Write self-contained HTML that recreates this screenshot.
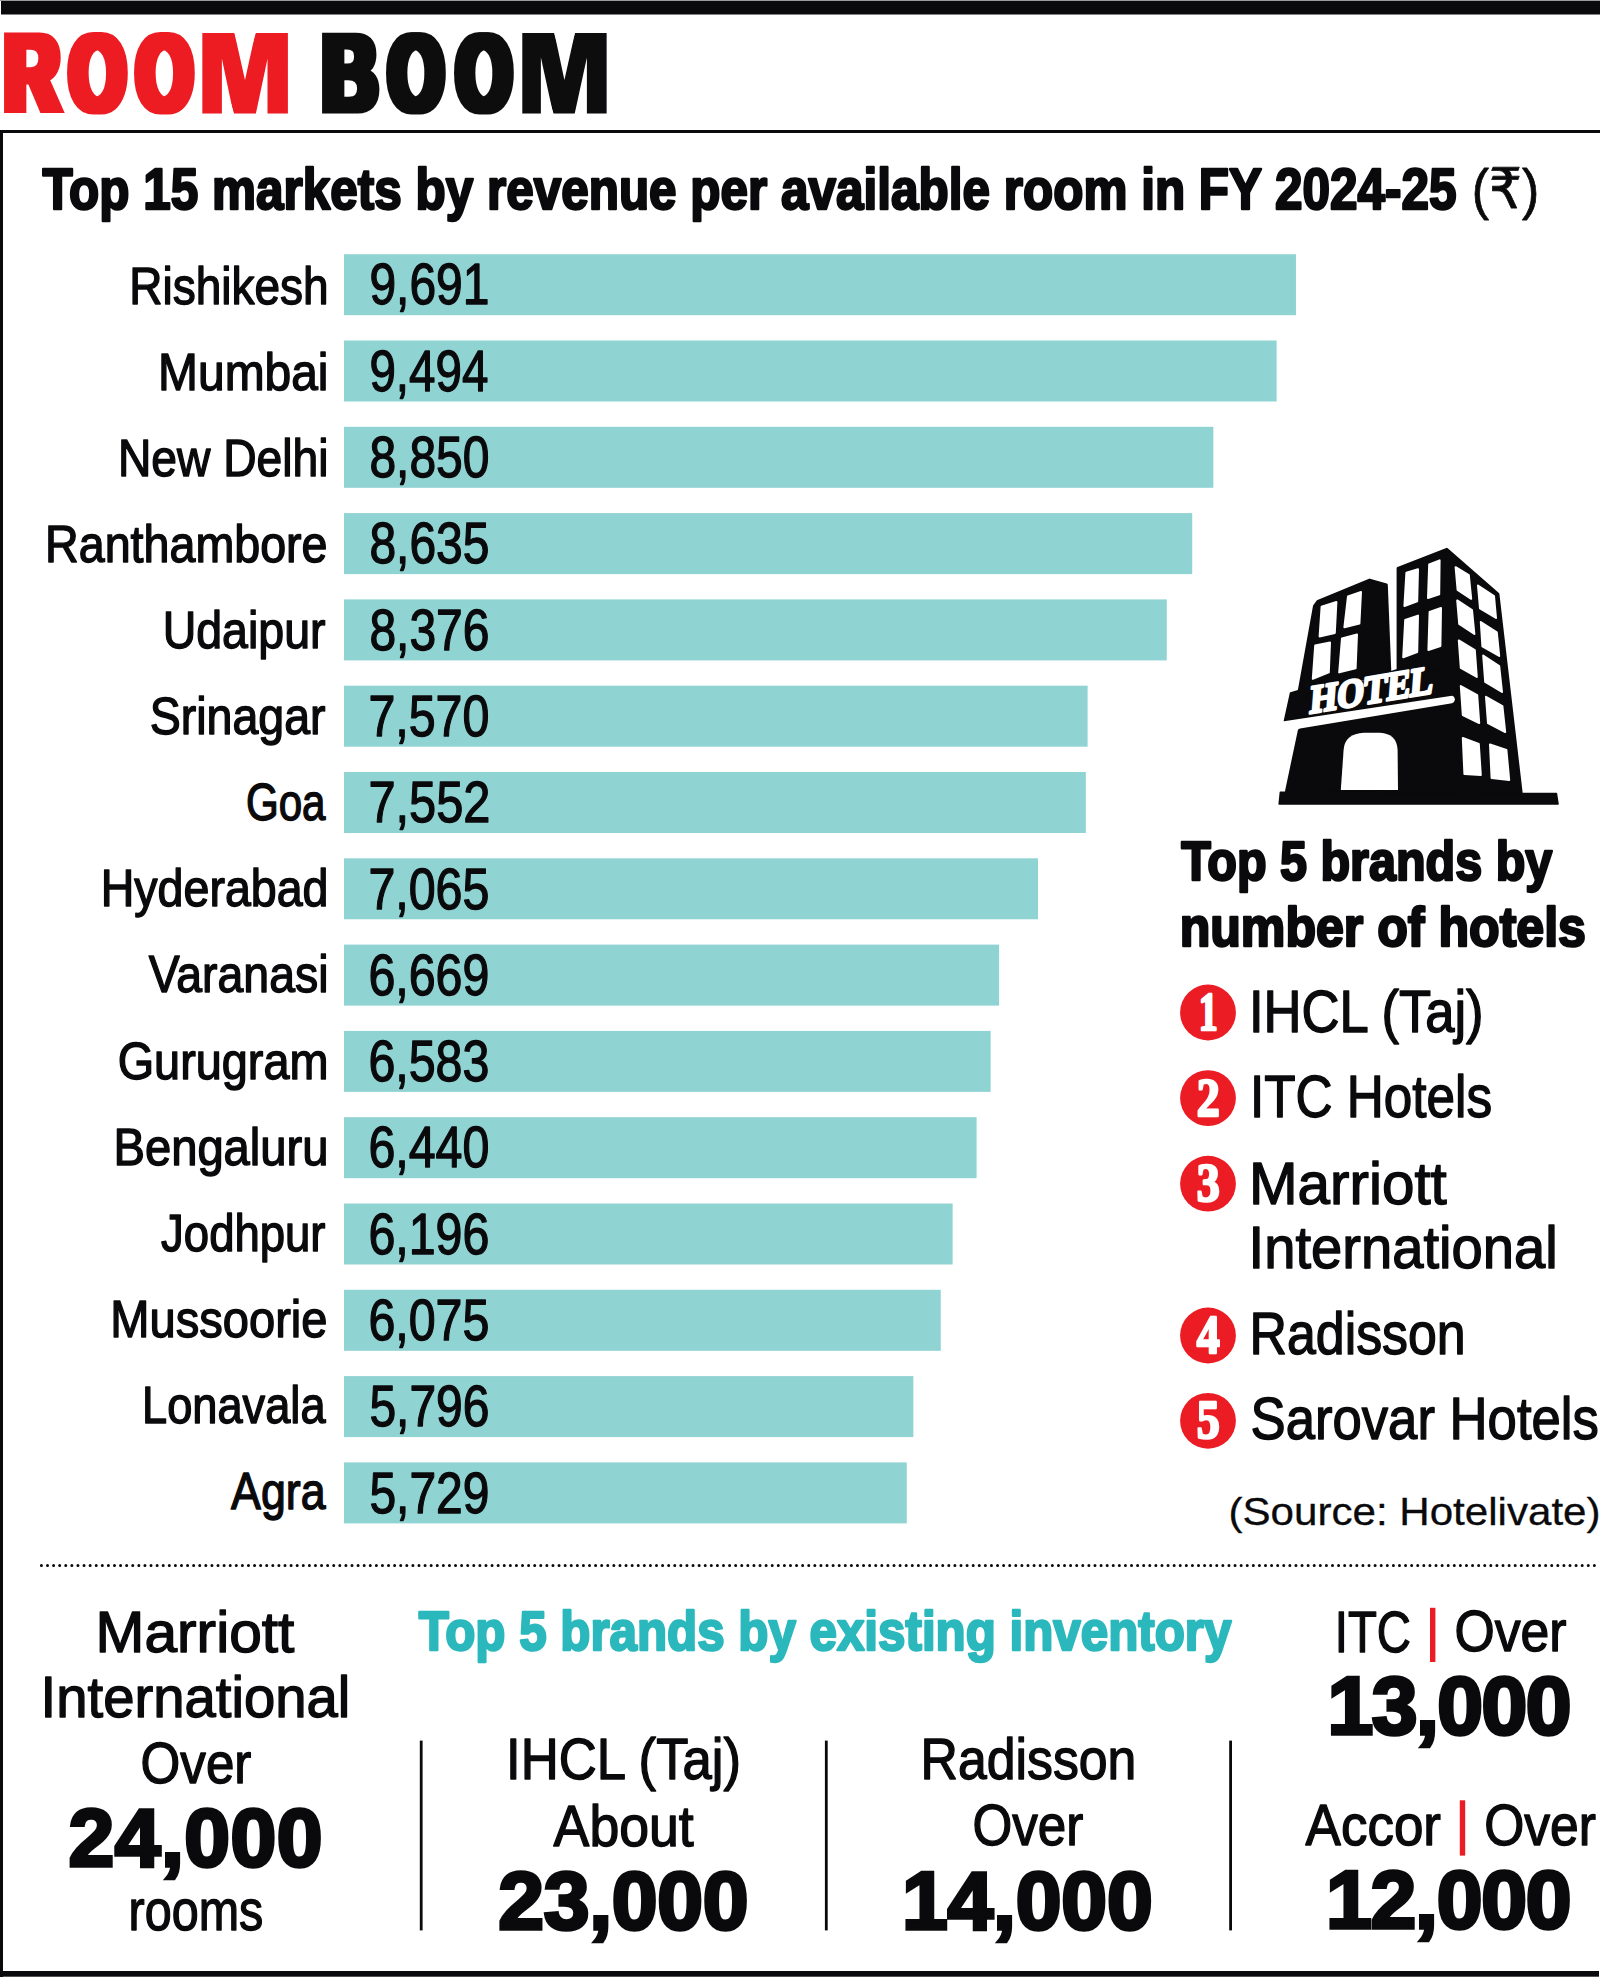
<!DOCTYPE html>
<html><head><meta charset="utf-8"><title>Room Boom</title>
<style>html,body{margin:0;padding:0;background:#fff;}svg{display:block;}</style></head><body>
<svg width="1600" height="1978" viewBox="0 0 1600 1978">
<defs><filter id="dilx" x="-20%" y="-10%" width="140%" height="120%"><feMorphology operator="dilate" radius="3.5 0"/></filter></defs>
<rect x="0" y="0" width="1600" height="1978" fill="#ffffff"/>
<rect x="0" y="0" width="1600" height="1" fill="#9a9a9a"/>
<rect x="1" y="1" width="1599" height="13.5" fill="#0a0a0c"/>
<rect x="0" y="130" width="1600" height="3" fill="#0a0a0c"/>
<rect x="0" y="130" width="3" height="1847" fill="#0a0a0c"/>
<rect x="0" y="1971" width="1599" height="5.7" fill="#0a0a0c"/>
<rect x="344" y="254.20" width="951.95" height="61" fill="#8fd3d2"/>
<rect x="344" y="340.50" width="932.60" height="61" fill="#8fd3d2"/>
<rect x="344" y="426.80" width="869.34" height="61" fill="#8fd3d2"/>
<rect x="344" y="513.10" width="848.22" height="61" fill="#8fd3d2"/>
<rect x="344" y="599.40" width="822.77" height="61" fill="#8fd3d2"/>
<rect x="344" y="685.70" width="743.60" height="61" fill="#8fd3d2"/>
<rect x="344" y="772.00" width="741.83" height="61" fill="#8fd3d2"/>
<rect x="344" y="858.30" width="693.99" height="61" fill="#8fd3d2"/>
<rect x="344" y="944.60" width="655.10" height="61" fill="#8fd3d2"/>
<rect x="344" y="1030.90" width="646.65" height="61" fill="#8fd3d2"/>
<rect x="344" y="1117.20" width="632.60" height="61" fill="#8fd3d2"/>
<rect x="344" y="1203.50" width="608.63" height="61" fill="#8fd3d2"/>
<rect x="344" y="1289.80" width="596.75" height="61" fill="#8fd3d2"/>
<rect x="344" y="1376.10" width="569.34" height="61" fill="#8fd3d2"/>
<rect x="344" y="1462.40" width="562.76" height="61" fill="#8fd3d2"/>
<g transform="translate(1260 530) scale(0.2)" stroke-linejoin="round">
<polygon fill="#0a0a0c" stroke="#0a0a0c" stroke-width="14" points="290,356 548,250 632,274 650,720 196,802 272,380"/>
<polygon fill="#0a0a0c" stroke="#0a0a0c" stroke-width="14" points="690,192 934,96 1190,320 1306,1312 660,1312 660,710 690,700"/>
<polygon fill="#0a0a0c" stroke="#0a0a0c" stroke-width="8" points="153,815 203,800 980,690 985,850 122,956"/>
<polygon fill="#0a0a0c" stroke="#0a0a0c" stroke-width="14" points="198,994 990,862 1000,1312 132,1306"/>
<polygon fill="#0a0a0c" stroke="#0a0a0c" stroke-width="8" points="102,1312 1482,1318 1490,1370 96,1370"/>
<polygon fill="#ffffff" points="112,958 960,829 970,834 975,847 970,860 960,866 200,993 185,1000 112,1004"/>
<polygon fill="#ffffff" stroke="#ffffff" stroke-width="10" stroke-linejoin="round" points="308,384 382,360 374,515 298,532"/>
<polygon fill="#ffffff" stroke="#ffffff" stroke-width="10" stroke-linejoin="round" points="440,332 505,310 497,468 422,486"/>
<polygon fill="#ffffff" stroke="#ffffff" stroke-width="10" stroke-linejoin="round" points="276,578 350,562 344,712 264,744"/>
<polygon fill="#ffffff" stroke="#ffffff" stroke-width="10" stroke-linejoin="round" points="410,542 485,522 478,692 396,712"/>
<polygon fill="#ffffff" stroke="#ffffff" stroke-width="10" stroke-linejoin="round" points="732,214 790,196 786,356 722,380"/>
<polygon fill="#ffffff" stroke="#ffffff" stroke-width="10" stroke-linejoin="round" points="846,172 898,152 896,322 840,340"/>
<polygon fill="#ffffff" stroke="#ffffff" stroke-width="10" stroke-linejoin="round" points="726,450 790,428 786,610 716,636"/>
<polygon fill="#ffffff" stroke="#ffffff" stroke-width="10" stroke-linejoin="round" points="848,410 905,390 902,580 842,600"/>
<polygon fill="#ffffff" stroke="#ffffff" stroke-width="10" stroke-linejoin="round" points="978,186 1044,226 1056,344 988,300"/>
<polygon fill="#ffffff" stroke="#ffffff" stroke-width="10" stroke-linejoin="round" points="986,352 1060,400 1072,520 996,470"/>
<polygon fill="#ffffff" stroke="#ffffff" stroke-width="10" stroke-linejoin="round" points="994,552 1074,600 1084,735 1004,690"/>
<polygon fill="#ffffff" stroke="#ffffff" stroke-width="10" stroke-linejoin="round" points="1004,780 1086,826 1096,965 1014,925"/>
<polygon fill="#ffffff" stroke="#ffffff" stroke-width="10" stroke-linejoin="round" points="1014,1040 1094,1070 1104,1225 1022,1220"/>
<polygon fill="#ffffff" stroke="#ffffff" stroke-width="10" stroke-linejoin="round" points="1090,278 1170,330 1180,440 1100,392"/>
<polygon fill="#ffffff" stroke="#ffffff" stroke-width="10" stroke-linejoin="round" points="1104,460 1184,512 1196,630 1112,582"/>
<polygon fill="#ffffff" stroke="#ffffff" stroke-width="10" stroke-linejoin="round" points="1116,628 1196,680 1210,810 1126,760"/>
<polygon fill="#ffffff" stroke="#ffffff" stroke-width="10" stroke-linejoin="round" points="1130,834 1212,880 1226,1010 1140,966"/>
<polygon fill="#ffffff" stroke="#ffffff" stroke-width="10" stroke-linejoin="round" points="1150,1072 1232,1100 1246,1250 1158,1240"/>
<path fill="#ffffff" d="M404,1300 L418,1100 Q424,1018 520,1014 L600,1014 Q684,1018 688,1100 L690,1300 Z"/>
<text x="0" y="0" transform="translate(246 918) rotate(-9.6) skewX(-14)" font-family="'Liberation Serif', serif" font-weight="bold" font-size="196" fill="#ffffff" stroke="#ffffff" stroke-width="14" stroke-linejoin="round" textLength="625" lengthAdjust="spacingAndGlyphs">HOTEL</text>
</g>
<circle cx="1208" cy="1012.5" r="27.9" fill="#ec1c24"/>
<circle cx="1208" cy="1098.1" r="27.9" fill="#ec1c24"/>
<circle cx="1208" cy="1183.7" r="27.9" fill="#ec1c24"/>
<circle cx="1208" cy="1335.5" r="27.9" fill="#ec1c24"/>
<circle cx="1208" cy="1420.8" r="27.9" fill="#ec1c24"/>
<line x1="41.4" y1="1565.5" x2="1600" y2="1565.5" stroke="#0a0a0c" stroke-width="3" stroke-linecap="round" stroke-dasharray="0.01 6.08"/>
<rect x="419.8" y="1740.6" width="2.8" height="189.8" fill="#0a0a0c"/>
<rect x="824.9" y="1740.6" width="2.8" height="189.8" fill="#0a0a0c"/>
<rect x="1229.2" y="1740.6" width="2.8" height="189.8" fill="#0a0a0c"/>
<rect x="1430" y="1607.8" width="5.4" height="54.2" fill="#ec1c24"/>
<rect x="1459.8" y="1800.3" width="5.4" height="55.3" fill="#ec1c24"/>
<g filter="url(#dilx)"><text x="4.82" y="110.50" textLength="54.37" lengthAdjust="spacingAndGlyphs" font-size="109" fill="#ec1c24" font-weight="bold" stroke="#ec1c24" stroke-width="5" stroke-linejoin="miter" stroke-miterlimit="3" font-family="'Liberation Sans', 'DejaVu Sans', sans-serif">R</text></g>
<g filter="url(#dilx)"><text x="69.82" y="110.50" textLength="55.37" lengthAdjust="spacingAndGlyphs" font-size="109" fill="#ec1c24" font-weight="bold" stroke="#ec1c24" stroke-width="5" stroke-linejoin="miter" stroke-miterlimit="3" font-family="'Liberation Sans', 'DejaVu Sans', sans-serif">O</text></g>
<g filter="url(#dilx)"><text x="136.82" y="110.50" textLength="55.37" lengthAdjust="spacingAndGlyphs" font-size="109" fill="#ec1c24" font-weight="bold" stroke="#ec1c24" stroke-width="5" stroke-linejoin="miter" stroke-miterlimit="3" font-family="'Liberation Sans', 'DejaVu Sans', sans-serif">O</text></g>
<g filter="url(#dilx)"><text x="201.82" y="110.50" textLength="86.77" lengthAdjust="spacingAndGlyphs" font-size="109" fill="#ec1c24" font-weight="bold" stroke="#ec1c24" stroke-width="5" stroke-linejoin="miter" stroke-miterlimit="3" font-family="'Liberation Sans', 'DejaVu Sans', sans-serif">M</text></g>
<g filter="url(#dilx)"><text x="322.82" y="110.50" textLength="54.37" lengthAdjust="spacingAndGlyphs" font-size="109" fill="#0a0a0c" font-weight="bold" stroke="#0a0a0c" stroke-width="5" stroke-linejoin="miter" stroke-miterlimit="3" font-family="'Liberation Sans', 'DejaVu Sans', sans-serif">B</text></g>
<g filter="url(#dilx)"><text x="388.82" y="110.50" textLength="54.37" lengthAdjust="spacingAndGlyphs" font-size="109" fill="#0a0a0c" font-weight="bold" stroke="#0a0a0c" stroke-width="5" stroke-linejoin="miter" stroke-miterlimit="3" font-family="'Liberation Sans', 'DejaVu Sans', sans-serif">O</text></g>
<g filter="url(#dilx)"><text x="456.82" y="110.50" textLength="54.37" lengthAdjust="spacingAndGlyphs" font-size="109" fill="#0a0a0c" font-weight="bold" stroke="#0a0a0c" stroke-width="5" stroke-linejoin="miter" stroke-miterlimit="3" font-family="'Liberation Sans', 'DejaVu Sans', sans-serif">O</text></g>
<g filter="url(#dilx)"><text x="521.82" y="110.50" textLength="85.37" lengthAdjust="spacingAndGlyphs" font-size="109" fill="#0a0a0c" font-weight="bold" stroke="#0a0a0c" stroke-width="5" stroke-linejoin="miter" stroke-miterlimit="3" font-family="'Liberation Sans', 'DejaVu Sans', sans-serif">M</text></g>
<text x="42.56" y="208.75" textLength="1413.88" lengthAdjust="spacingAndGlyphs" font-size="57.4" fill="#0a0a0c" font-weight="bold" stroke="#0a0a0c" stroke-width="2.5" stroke-linejoin="round" font-family="'Liberation Sans', 'DejaVu Sans', sans-serif">Top 15 markets by revenue per available room in FY 2024-25</text>
<text x="1471.76" y="207.50" textLength="67.48" lengthAdjust="spacingAndGlyphs" font-size="56" fill="#0a0a0c" stroke="#0a0a0c" stroke-width="0.8" stroke-linejoin="round" font-family="'Liberation Sans', 'DejaVu Sans', sans-serif">(₹)</text>
<text x="129.28" y="303.60" textLength="199.24" lengthAdjust="spacingAndGlyphs" font-size="51.5" fill="#0a0a0c" stroke="#0a0a0c" stroke-width="1.4" stroke-linejoin="round" font-family="'Liberation Sans', 'DejaVu Sans', sans-serif">Rishikesh</text>
<text x="369.40" y="304.40" textLength="120.00" lengthAdjust="spacingAndGlyphs" font-size="57.8" fill="#0a0a0c" stroke="#0a0a0c" stroke-width="1.3" stroke-linejoin="round" font-family="'Liberation Sans', 'DejaVu Sans', sans-serif">9,691</text>
<text x="158.08" y="389.70" textLength="170.44" lengthAdjust="spacingAndGlyphs" font-size="51.5" fill="#0a0a0c" stroke="#0a0a0c" stroke-width="1.4" stroke-linejoin="round" font-family="'Liberation Sans', 'DejaVu Sans', sans-serif">Mumbai</text>
<text x="369.40" y="390.70" textLength="119.00" lengthAdjust="spacingAndGlyphs" font-size="57.8" fill="#0a0a0c" stroke="#0a0a0c" stroke-width="1.3" stroke-linejoin="round" font-family="'Liberation Sans', 'DejaVu Sans', sans-serif">9,494</text>
<text x="117.88" y="475.80" textLength="210.64" lengthAdjust="spacingAndGlyphs" font-size="51.5" fill="#0a0a0c" stroke="#0a0a0c" stroke-width="1.4" stroke-linejoin="round" font-family="'Liberation Sans', 'DejaVu Sans', sans-serif">New Delhi</text>
<text x="369.40" y="477.00" textLength="120.00" lengthAdjust="spacingAndGlyphs" font-size="57.8" fill="#0a0a0c" stroke="#0a0a0c" stroke-width="1.3" stroke-linejoin="round" font-family="'Liberation Sans', 'DejaVu Sans', sans-serif">8,850</text>
<text x="45.08" y="561.90" textLength="282.44" lengthAdjust="spacingAndGlyphs" font-size="51.5" fill="#0a0a0c" stroke="#0a0a0c" stroke-width="1.4" stroke-linejoin="round" font-family="'Liberation Sans', 'DejaVu Sans', sans-serif">Ranthambore</text>
<text x="369.40" y="563.30" textLength="120.00" lengthAdjust="spacingAndGlyphs" font-size="57.8" fill="#0a0a0c" stroke="#0a0a0c" stroke-width="1.3" stroke-linejoin="round" font-family="'Liberation Sans', 'DejaVu Sans', sans-serif">8,635</text>
<text x="162.68" y="648.00" textLength="162.84" lengthAdjust="spacingAndGlyphs" font-size="51.5" fill="#0a0a0c" stroke="#0a0a0c" stroke-width="1.4" stroke-linejoin="round" font-family="'Liberation Sans', 'DejaVu Sans', sans-serif">Udaipur</text>
<text x="369.40" y="649.60" textLength="120.00" lengthAdjust="spacingAndGlyphs" font-size="57.8" fill="#0a0a0c" stroke="#0a0a0c" stroke-width="1.3" stroke-linejoin="round" font-family="'Liberation Sans', 'DejaVu Sans', sans-serif">8,376</text>
<text x="149.68" y="734.10" textLength="175.84" lengthAdjust="spacingAndGlyphs" font-size="51.5" fill="#0a0a0c" stroke="#0a0a0c" stroke-width="1.4" stroke-linejoin="round" font-family="'Liberation Sans', 'DejaVu Sans', sans-serif">Srinagar</text>
<text x="368.40" y="735.90" textLength="121.00" lengthAdjust="spacingAndGlyphs" font-size="57.8" fill="#0a0a0c" stroke="#0a0a0c" stroke-width="1.3" stroke-linejoin="round" font-family="'Liberation Sans', 'DejaVu Sans', sans-serif">7,570</text>
<text x="245.88" y="820.20" textLength="79.64" lengthAdjust="spacingAndGlyphs" font-size="51.5" fill="#0a0a0c" stroke="#0a0a0c" stroke-width="1.4" stroke-linejoin="round" font-family="'Liberation Sans', 'DejaVu Sans', sans-serif">Goa</text>
<text x="368.40" y="822.20" textLength="122.00" lengthAdjust="spacingAndGlyphs" font-size="57.8" fill="#0a0a0c" stroke="#0a0a0c" stroke-width="1.3" stroke-linejoin="round" font-family="'Liberation Sans', 'DejaVu Sans', sans-serif">7,552</text>
<text x="100.68" y="906.30" textLength="227.84" lengthAdjust="spacingAndGlyphs" font-size="51.5" fill="#0a0a0c" stroke="#0a0a0c" stroke-width="1.4" stroke-linejoin="round" font-family="'Liberation Sans', 'DejaVu Sans', sans-serif">Hyderabad</text>
<text x="368.40" y="908.50" textLength="121.00" lengthAdjust="spacingAndGlyphs" font-size="57.8" fill="#0a0a0c" stroke="#0a0a0c" stroke-width="1.3" stroke-linejoin="round" font-family="'Liberation Sans', 'DejaVu Sans', sans-serif">7,065</text>
<text x="148.68" y="992.40" textLength="179.84" lengthAdjust="spacingAndGlyphs" font-size="51.5" fill="#0a0a0c" stroke="#0a0a0c" stroke-width="1.4" stroke-linejoin="round" font-family="'Liberation Sans', 'DejaVu Sans', sans-serif">Varanasi</text>
<text x="368.40" y="994.80" textLength="121.00" lengthAdjust="spacingAndGlyphs" font-size="57.8" fill="#0a0a0c" stroke="#0a0a0c" stroke-width="1.3" stroke-linejoin="round" font-family="'Liberation Sans', 'DejaVu Sans', sans-serif">6,669</text>
<text x="117.68" y="1078.50" textLength="210.84" lengthAdjust="spacingAndGlyphs" font-size="51.5" fill="#0a0a0c" stroke="#0a0a0c" stroke-width="1.4" stroke-linejoin="round" font-family="'Liberation Sans', 'DejaVu Sans', sans-serif">Gurugram</text>
<text x="368.40" y="1081.10" textLength="121.00" lengthAdjust="spacingAndGlyphs" font-size="57.8" fill="#0a0a0c" stroke="#0a0a0c" stroke-width="1.3" stroke-linejoin="round" font-family="'Liberation Sans', 'DejaVu Sans', sans-serif">6,583</text>
<text x="113.48" y="1164.60" textLength="215.04" lengthAdjust="spacingAndGlyphs" font-size="51.5" fill="#0a0a0c" stroke="#0a0a0c" stroke-width="1.4" stroke-linejoin="round" font-family="'Liberation Sans', 'DejaVu Sans', sans-serif">Bengaluru</text>
<text x="368.40" y="1167.40" textLength="121.00" lengthAdjust="spacingAndGlyphs" font-size="57.8" fill="#0a0a0c" stroke="#0a0a0c" stroke-width="1.3" stroke-linejoin="round" font-family="'Liberation Sans', 'DejaVu Sans', sans-serif">6,440</text>
<text x="161.08" y="1250.70" textLength="164.44" lengthAdjust="spacingAndGlyphs" font-size="51.5" fill="#0a0a0c" stroke="#0a0a0c" stroke-width="1.4" stroke-linejoin="round" font-family="'Liberation Sans', 'DejaVu Sans', sans-serif">Jodhpur</text>
<text x="368.40" y="1253.70" textLength="121.00" lengthAdjust="spacingAndGlyphs" font-size="57.8" fill="#0a0a0c" stroke="#0a0a0c" stroke-width="1.3" stroke-linejoin="round" font-family="'Liberation Sans', 'DejaVu Sans', sans-serif">6,196</text>
<text x="110.28" y="1336.80" textLength="217.24" lengthAdjust="spacingAndGlyphs" font-size="51.5" fill="#0a0a0c" stroke="#0a0a0c" stroke-width="1.4" stroke-linejoin="round" font-family="'Liberation Sans', 'DejaVu Sans', sans-serif">Mussoorie</text>
<text x="368.40" y="1340.00" textLength="121.00" lengthAdjust="spacingAndGlyphs" font-size="57.8" fill="#0a0a0c" stroke="#0a0a0c" stroke-width="1.3" stroke-linejoin="round" font-family="'Liberation Sans', 'DejaVu Sans', sans-serif">6,075</text>
<text x="142.08" y="1422.90" textLength="183.44" lengthAdjust="spacingAndGlyphs" font-size="51.5" fill="#0a0a0c" stroke="#0a0a0c" stroke-width="1.4" stroke-linejoin="round" font-family="'Liberation Sans', 'DejaVu Sans', sans-serif">Lonavala</text>
<text x="369.40" y="1426.30" textLength="120.00" lengthAdjust="spacingAndGlyphs" font-size="57.8" fill="#0a0a0c" stroke="#0a0a0c" stroke-width="1.3" stroke-linejoin="round" font-family="'Liberation Sans', 'DejaVu Sans', sans-serif">5,796</text>
<text x="231.08" y="1509.00" textLength="94.44" lengthAdjust="spacingAndGlyphs" font-size="51.5" fill="#0a0a0c" stroke="#0a0a0c" stroke-width="1.4" stroke-linejoin="round" font-family="'Liberation Sans', 'DejaVu Sans', sans-serif">Agra</text>
<text x="369.40" y="1512.60" textLength="120.00" lengthAdjust="spacingAndGlyphs" font-size="57.8" fill="#0a0a0c" stroke="#0a0a0c" stroke-width="1.3" stroke-linejoin="round" font-family="'Liberation Sans', 'DejaVu Sans', sans-serif">5,729</text>
<text x="1181.26" y="879.75" textLength="371.08" lengthAdjust="spacingAndGlyphs" font-size="55" fill="#0a0a0c" font-weight="bold" stroke="#0a0a0c" stroke-width="2.5" stroke-linejoin="round" font-family="'Liberation Sans', 'DejaVu Sans', sans-serif">Top 5 brands by</text>
<text x="1179.66" y="945.65" textLength="406.28" lengthAdjust="spacingAndGlyphs" font-size="55" fill="#0a0a0c" font-weight="bold" stroke="#0a0a0c" stroke-width="2.5" stroke-linejoin="round" font-family="'Liberation Sans', 'DejaVu Sans', sans-serif">number of hotels</text>
<text x="1248.96" y="1031.60" textLength="234.68" lengthAdjust="spacingAndGlyphs" font-size="59" fill="#0a0a0c" stroke="#0a0a0c" stroke-width="1.4" stroke-linejoin="round" font-family="'Liberation Sans', 'DejaVu Sans', sans-serif">IHCL (Taj)</text>
<text x="1249.96" y="1117.10" textLength="242.08" lengthAdjust="spacingAndGlyphs" font-size="59" fill="#0a0a0c" stroke="#0a0a0c" stroke-width="1.4" stroke-linejoin="round" font-family="'Liberation Sans', 'DejaVu Sans', sans-serif">ITC Hotels</text>
<text x="1248.96" y="1203.80" textLength="197.88" lengthAdjust="spacingAndGlyphs" font-size="59" fill="#0a0a0c" stroke="#0a0a0c" stroke-width="1.4" stroke-linejoin="round" font-family="'Liberation Sans', 'DejaVu Sans', sans-serif">Marriott</text>
<text x="1248.56" y="1268.30" textLength="309.28" lengthAdjust="spacingAndGlyphs" font-size="59" fill="#0a0a0c" stroke="#0a0a0c" stroke-width="1.4" stroke-linejoin="round" font-family="'Liberation Sans', 'DejaVu Sans', sans-serif">International</text>
<text x="1249.56" y="1354.30" textLength="216.08" lengthAdjust="spacingAndGlyphs" font-size="59" fill="#0a0a0c" stroke="#0a0a0c" stroke-width="1.4" stroke-linejoin="round" font-family="'Liberation Sans', 'DejaVu Sans', sans-serif">Radisson</text>
<text x="1250.56" y="1439.00" textLength="348.28" lengthAdjust="spacingAndGlyphs" font-size="59" fill="#0a0a0c" stroke="#0a0a0c" stroke-width="1.4" stroke-linejoin="round" font-family="'Liberation Sans', 'DejaVu Sans', sans-serif">Sarovar Hotels</text>
<text x="1228.44" y="1524.50" textLength="372.12" lengthAdjust="spacingAndGlyphs" font-size="39" fill="#0a0a0c" stroke="#0a0a0c" stroke-width="0.3" stroke-linejoin="round" font-family="'Liberation Sans', 'DejaVu Sans', sans-serif">(Source: Hotelivate)</text>
<text x="95.62" y="1651.80" textLength="198.76" lengthAdjust="spacingAndGlyphs" font-size="57.8" fill="#0a0a0c" stroke="#0a0a0c" stroke-width="1.4" stroke-linejoin="round" font-family="'Liberation Sans', 'DejaVu Sans', sans-serif">Marriott</text>
<text x="40.62" y="1717.30" textLength="309.76" lengthAdjust="spacingAndGlyphs" font-size="57.8" fill="#0a0a0c" stroke="#0a0a0c" stroke-width="1.4" stroke-linejoin="round" font-family="'Liberation Sans', 'DejaVu Sans', sans-serif">International</text>
<text x="140.62" y="1783.05" textLength="110.76" lengthAdjust="spacingAndGlyphs" font-size="57.8" fill="#0a0a0c" stroke="#0a0a0c" stroke-width="1.4" stroke-linejoin="round" font-family="'Liberation Sans', 'DejaVu Sans', sans-serif">Over</text>
<text x="68.48" y="1866.25" textLength="254.04" lengthAdjust="spacing" font-size="82.3" fill="#0a0a0c" font-weight="bold" stroke="#0a0a0c" stroke-width="3.5" stroke-linejoin="miter" stroke-miterlimit="3" font-family="'Liberation Sans', 'DejaVu Sans', sans-serif">24,000</text>
<text x="128.62" y="1929.80" textLength="134.76" lengthAdjust="spacingAndGlyphs" font-size="57.8" fill="#0a0a0c" stroke="#0a0a0c" stroke-width="1.4" stroke-linejoin="round" font-family="'Liberation Sans', 'DejaVu Sans', sans-serif">rooms</text>
<text x="418.80" y="1650.45" textLength="812.60" lengthAdjust="spacingAndGlyphs" font-size="56.3" fill="#2bb8bd" font-weight="bold" stroke="#2bb8bd" stroke-width="2.5" stroke-linejoin="round" font-family="'Liberation Sans', 'DejaVu Sans', sans-serif">Top 5 brands by existing inventory</text>
<text x="506.02" y="1779.30" textLength="234.96" lengthAdjust="spacingAndGlyphs" font-size="57.8" fill="#0a0a0c" stroke="#0a0a0c" stroke-width="1.4" stroke-linejoin="round" font-family="'Liberation Sans', 'DejaVu Sans', sans-serif">IHCL (Taj)</text>
<text x="553.62" y="1845.80" textLength="140.16" lengthAdjust="spacingAndGlyphs" font-size="57.8" fill="#0a0a0c" stroke="#0a0a0c" stroke-width="1.4" stroke-linejoin="round" font-family="'Liberation Sans', 'DejaVu Sans', sans-serif">About</text>
<text x="498.28" y="1928.65" textLength="250.24" lengthAdjust="spacing" font-size="82.3" fill="#0a0a0c" font-weight="bold" stroke="#0a0a0c" stroke-width="3.5" stroke-linejoin="miter" stroke-miterlimit="3" font-family="'Liberation Sans', 'DejaVu Sans', sans-serif">23,000</text>
<text x="920.62" y="1779.30" textLength="215.76" lengthAdjust="spacingAndGlyphs" font-size="57.8" fill="#0a0a0c" stroke="#0a0a0c" stroke-width="1.4" stroke-linejoin="round" font-family="'Liberation Sans', 'DejaVu Sans', sans-serif">Radisson</text>
<text x="972.42" y="1845.30" textLength="110.96" lengthAdjust="spacingAndGlyphs" font-size="57.8" fill="#0a0a0c" stroke="#0a0a0c" stroke-width="1.4" stroke-linejoin="round" font-family="'Liberation Sans', 'DejaVu Sans', sans-serif">Over</text>
<text x="901.88" y="1928.65" textLength="250.84" lengthAdjust="spacing" font-size="82.3" fill="#0a0a0c" font-weight="bold" stroke="#0a0a0c" stroke-width="3.5" stroke-linejoin="miter" stroke-miterlimit="3" font-family="'Liberation Sans', 'DejaVu Sans', sans-serif">14,000</text>
<text x="1334.82" y="1651.50" textLength="76.16" lengthAdjust="spacingAndGlyphs" font-size="57.8" fill="#0a0a0c" stroke="#0a0a0c" stroke-width="1.4" stroke-linejoin="round" font-family="'Liberation Sans', 'DejaVu Sans', sans-serif">ITC</text>
<text x="1454.42" y="1651.30" textLength="112.16" lengthAdjust="spacingAndGlyphs" font-size="57.8" fill="#0a0a0c" stroke="#0a0a0c" stroke-width="1.4" stroke-linejoin="round" font-family="'Liberation Sans', 'DejaVu Sans', sans-serif">Over</text>
<text x="1327.48" y="1734.05" textLength="244.04" lengthAdjust="spacing" font-size="82.3" fill="#0a0a0c" font-weight="bold" stroke="#0a0a0c" stroke-width="3.5" stroke-linejoin="miter" stroke-miterlimit="3" font-family="'Liberation Sans', 'DejaVu Sans', sans-serif">13,000</text>
<text x="1305.62" y="1845.20" textLength="135.36" lengthAdjust="spacingAndGlyphs" font-size="57.8" fill="#0a0a0c" stroke="#0a0a0c" stroke-width="1.4" stroke-linejoin="round" font-family="'Liberation Sans', 'DejaVu Sans', sans-serif">Accor</text>
<text x="1484.22" y="1845.20" textLength="111.76" lengthAdjust="spacingAndGlyphs" font-size="57.8" fill="#0a0a0c" stroke="#0a0a0c" stroke-width="1.4" stroke-linejoin="round" font-family="'Liberation Sans', 'DejaVu Sans', sans-serif">Over</text>
<text x="1326.08" y="1928.15" textLength="245.44" lengthAdjust="spacing" font-size="82.3" fill="#0a0a0c" font-weight="bold" stroke="#0a0a0c" stroke-width="3.5" stroke-linejoin="miter" stroke-miterlimit="3" font-family="'Liberation Sans', 'DejaVu Sans', sans-serif">12,000</text>
<polygon fill="#ffffff" points="233.75,30 256,30 245,80"/>
<polygon fill="#ffffff" points="221.9,58.75 221.9,115 233.75,115"/>
<polygon fill="#ffffff" points="267.5,58.75 267.5,115 255.6,115"/>
<polygon fill="#ffffff" points="553.75,30 575.6,30 564.4,80"/>
<polygon fill="#ffffff" points="540.9,57.5 540.9,115 553.4,115"/>
<polygon fill="#ffffff" points="586.9,57.5 586.9,115 574.4,115"/>
<text x="1198.8" y="1030.10" font-family="'Liberation Serif', serif" font-weight="bold" font-size="54" fill="#ffffff" stroke="#ffffff" stroke-width="2.6" stroke-linejoin="round" textLength="19" lengthAdjust="spacingAndGlyphs">1</text>
<text x="1196.8" y="1115.70" font-family="'Liberation Serif', serif" font-weight="bold" font-size="54" fill="#ffffff" stroke="#ffffff" stroke-width="2.6" stroke-linejoin="round" textLength="23" lengthAdjust="spacingAndGlyphs">2</text>
<text x="1196.8" y="1201.30" font-family="'Liberation Serif', serif" font-weight="bold" font-size="54" fill="#ffffff" stroke="#ffffff" stroke-width="2.6" stroke-linejoin="round" textLength="23" lengthAdjust="spacingAndGlyphs">3</text>
<text x="1196.8" y="1353.10" font-family="'Liberation Serif', serif" font-weight="bold" font-size="54" fill="#ffffff" stroke="#ffffff" stroke-width="2.6" stroke-linejoin="round" textLength="23" lengthAdjust="spacingAndGlyphs">4</text>
<text x="1196.8" y="1438.40" font-family="'Liberation Serif', serif" font-weight="bold" font-size="54" fill="#ffffff" stroke="#ffffff" stroke-width="2.6" stroke-linejoin="round" textLength="23" lengthAdjust="spacingAndGlyphs">5</text>
</svg></body></html>
